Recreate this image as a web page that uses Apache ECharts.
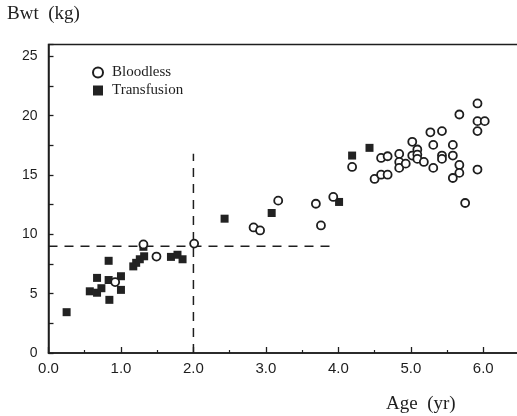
<!DOCTYPE html>
<html>
<head>
<meta charset="utf-8">
<script src="https://cdn.jsdelivr.net/npm/echarts@6/dist/echarts.min.js"></script>
<style>
html,body{margin:0;padding:0;background:#fff;}
#c{width:517px;height:416px;}
</style>
</head>
<body>
<div id="c"></div>
<script>
// Bloodless group: age (yr), body weight (kg)
const bloodlessAge = [0.92, 1.31, 1.49, 2.01, 2.83, 2.92, 3.17, 3.69, 3.76, 3.93,
  4.19, 4.59, 4.68, 4.50, 4.59, 4.68, 4.84, 4.84, 4.84, 4.93,
  5.02, 5.02, 5.09, 5.09, 5.09, 5.18, 5.27, 5.31, 5.31, 5.43,
  5.43, 5.43, 5.58, 5.58, 5.67, 5.67, 5.58, 5.75, 5.67, 5.92,
  5.92, 6.02, 5.92, 5.92];
const bloodlessBwt = [5.98, 9.15, 8.13, 9.22, 10.58, 10.33, 12.84, 12.58, 10.75, 13.15,
  15.68, 16.44, 16.58, 14.67, 15.03, 15.03, 16.78, 16.1, 15.6, 15.96,
  17.8, 16.64, 17.15, 16.72, 16.36, 16.1, 18.6, 17.54, 15.6, 18.7,
  16.64, 16.36, 17.54, 16.64, 15.85, 15.18, 14.75, 12.64, 20.1, 21.03,
  19.54, 19.54, 18.7, 15.46];
// Transfusion group
const transfusionAge = [0.25, 0.57, 0.67, 0.73, 0.67, 0.83, 0.84, 0.83, 1.0, 1.0,
  1.17, 1.21, 1.26, 1.32, 1.31, 1.69, 1.78, 1.85, 2.43, 3.08,
  4.01, 4.19, 4.43];
const transfusionBwt = [3.44, 5.2, 5.08, 5.46, 6.33, 6.15, 4.48, 7.77, 6.47, 5.32,
  7.3, 7.6, 7.9, 8.15, 8.95, 8.1, 8.28, 7.9, 11.32, 11.8,
  12.73, 16.64, 17.29];
// Reference (dashed) lines
const hLineX = [0, 3.9];
const hLineY = [9, 9];
const vLineX = [2, 2];
const vLineY = [0, 16.8];
// Axis ticks
const xTicks = [0, 1, 2, 3, 4, 5, 6];
const yTicks = [0, 5, 10, 15, 20, 25];

const zip = (a, b) => a.map((v, i) => [v, b[i]]);
const ink = '#1e1e1e';
const serif = '"Liberation Serif", "DejaVu Serif", serif';
const sans = '"Liberation Sans", Arial, sans-serif';

const chart = echarts.init(document.getElementById('c'), null, {renderer: 'canvas'});
chart.setOption({
  backgroundColor: '#fff',
  animation: false,
  grid: {left: 48.5, top: 44.5, width: 471, height: 308.5, show: true,
    outerBoundsMode: 'none', containLabel: false,
    borderColor: ink, borderWidth: 1.5, backgroundColor: 'transparent'},
  xAxis: {
    type: 'value', min: 0, max: 6.5, interval: 1,
    axisLine: {show: true, lineStyle: {color: ink, width: 1.5}},
    axisTick: {show: true, inside: true, length: 6, lineStyle: {color: ink, width: 1.3}},
    minorTick: {show: true, splitNumber: 2, length: 3, lineStyle: {color: ink, width: 1.2}},
    splitLine: {show: false},
    axisLabel: {color: ink, fontFamily: sans, fontSize: 15, margin: 8, showMaxLabel: false,
      formatter: v => xTicks.includes(v) ? v.toFixed(1) : ''}
  },
  yAxis: {
    type: 'value', min: 0, max: 26, interval: 5,
    axisLine: {show: true, lineStyle: {color: ink, width: 1.5}},
    axisTick: {show: true, inside: true, length: 5, lineStyle: {color: ink, width: 1.3}},
    minorTick: {show: true, splitNumber: 2, length: 5, lineStyle: {color: ink, width: 1.3}},
    splitLine: {show: false},
    axisLabel: {color: ink, fontFamily: sans, fontSize: 14, margin: 11, showMaxLabel: false,
      formatter: v => yTicks.includes(v) ? String(v) : ''}
  },
  legend: {
    data: ['Bloodless', 'Transfusion'],
    orient: 'vertical', left: 92, top: 65, padding: 0,
    itemWidth: 10, itemHeight: 10, itemGap: 3,
    textStyle: {fontFamily: serif, fontSize: 15, color: ink, padding: [0, 0, 0, 4]}
  },
  graphic: [
    {type: 'text', left: 7, top: 5, style: {text: 'Bwt  (kg)', font: '19px ' + serif, fill: ink}},
    {type: 'text', left: 386, top: 395, style: {text: 'Age  (yr)', font: '19px ' + serif, fill: ink}}
  ],
  series: [
    {name: 'Bloodless', type: 'scatter', z: 4, symbol: 'circle', symbolSize: 8,
      itemStyle: {color: '#fff', borderColor: ink, borderWidth: 1.8, opacity: 1},
      data: zip(bloodlessAge, bloodlessBwt)},
    {name: 'Transfusion', type: 'scatter', z: 3, symbol: 'rect', symbolSize: 8,
      itemStyle: {color: '#222', opacity: 1},
      data: zip(transfusionAge, transfusionBwt)},
    {name: 'h', type: 'line', z: 2, symbol: 'none', silent: true,
      lineStyle: {color: ink, width: 1.5, type: [9, 7]}, data: zip(hLineX, hLineY)},
    {name: 'v', type: 'line', z: 2, symbol: 'none', silent: true,
      lineStyle: {color: ink, width: 1.5, type: [9, 7]}, data: zip(vLineX, vLineY)}
  ]
});
</script>
</body>
</html>
